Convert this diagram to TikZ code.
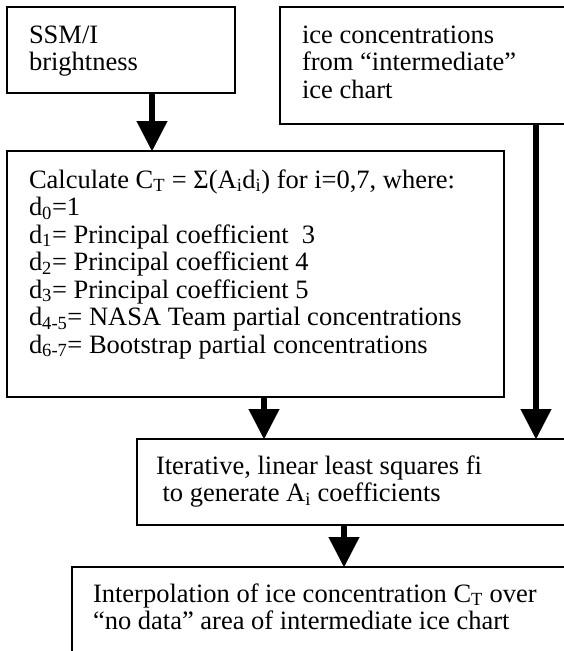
\documentclass[tikz,border=0pt]{standalone}
\usepackage{fontspec}
\setmainfont{Liberation Serif}
\usetikzlibrary{arrows.meta}
\begin{document}
\begin{tikzpicture}[x=1pt,y=-1pt,
  box/.style={draw,line width=1.8pt,anchor=north west,inner sep=0pt,outer sep=0pt},
  txt/.style={anchor=base west,inner sep=0pt,outer sep=0pt,align=left,
    font=\fontsize{26.5}{27.5}\selectfont},
  flow/.style={line width=6pt,-{Triangle[width=31pt,length=30pt,line width=0.1pt]}}]
\useasboundingbox (0,0) rectangle (564,651);
\clip (0,0) rectangle (564,651);
% boxes
\node[box,minimum width=228pt,minimum height=86pt] (b1) at (7,7) {};
\node[box,minimum width=320pt,minimum height=117pt] (b2) at (280,7) {};
\node[box,minimum width=497pt,minimum height=246pt] (b3) at (7,151) {};
\node[box,minimum width=463pt,minimum height=86pt] (b4) at (137,439) {};
\node[box,minimum width=528pt,minimum height=140pt] (b5) at (72,567) {};
% texts (anchored at the baseline of their last line)
\node[txt] (t1) at (29,70.5) {SSM/I\\brightness};
\node[txt] (t2) at (302,98) {ice concentrations\\from “intermediate”\\ice chart};
\node[txt] (t3) at (29,353) {Calculate C\textsubscript{T} = Σ(A\textsubscript{i}d\textsubscript{i}) for i=0,7, where:\\
d\textsubscript{0}=1\\
d\textsubscript{1}= Principal coefficient\ \ 3\\
d\textsubscript{2}= Principal coefficient 4\\
d\textsubscript{3}= Principal coefficient 5\\
d\textsubscript{4-5}= NASA Team partial concentrations\\
d\textsubscript{6-7}= Bootstrap partial concentrations};
\node[txt] (t4) at (156,501.5) {Iterative, linear least squares fi\\\ to generate A\textsubscript{i} coefficients};
\node[txt] (t5) at (93,629.5) {Interpolation of ice concentration C\textsubscript{T} over\\“no data” area of intermediate ice chart};
% connectors
\coordinate (x1) at (152,0);
\coordinate (x2) at (536,0);
\coordinate (x3) at (264,0);
\coordinate (x4) at (344,0);
\draw[flow] (x1 |- b1.south) -- (x1 |- b3.north);
\draw[flow] (x2 |- b2.south) -- (x2 |- b4.north);
\draw[flow] (x3 |- b3.south) -- (x3 |- b4.north);
\draw[flow] (x4 |- b4.south) -- (x4 |- b5.north);
\end{tikzpicture}
\end{document}
